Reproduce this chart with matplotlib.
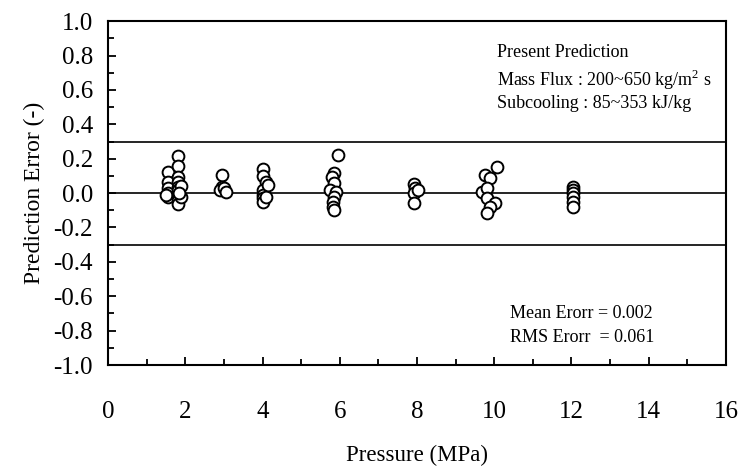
import numpy as np
import matplotlib
matplotlib.use('Agg')
import matplotlib.pyplot as plt
from matplotlib.ticker import MultipleLocator

plt.rcParams['font.family'] = ['Liberation Serif', 'DejaVu Serif']
plt.rcParams['mathtext.fontset'] = 'custom'
plt.rcParams['mathtext.rm'] = 'Liberation Serif'

# pressure (MPa) and prediction error for each data point
pressure = [1.55, 1.55, 1.55, 1.55, 1.55, 1.50,
            1.81, 1.81, 1.81, 1.81, 1.81, 1.81, 1.81, 1.81, 1.81, 1.90, 1.90, 1.85,
            2.94, 2.94, 2.90, 3.00, 3.06,
            4.02, 4.02, 4.10, 4.02, 4.02, 4.02, 4.02, 4.09, 4.15,
            5.95, 5.85, 5.80, 5.85, 5.75, 5.90, 5.85, 5.82, 5.82, 5.85,
            7.91, 7.95, 7.91, 7.91, 8.03,
            9.77, 10.07, 9.90, 9.69, 9.82, 9.80, 10.03, 9.90, 9.80,
            12.05, 12.05, 12.05, 12.05, 12.05, 12.05]
error = [0.12, 0.066, 0.03, 0.0, -0.02, -0.01,
         0.215, 0.157, 0.095, 0.066, 0.037, 0.017, -0.012, -0.04, -0.064, 0.04, -0.02, 0.0,
         0.105, 0.037, 0.017, 0.03, 0.008,
         0.14, 0.10, 0.066, 0.017, -0.012, -0.03, -0.05, -0.02, 0.05,
         0.22, 0.116, 0.095, 0.058, 0.017, 0.008, -0.02, -0.05, -0.08, -0.10,
         0.052, 0.028, 0.0, -0.056, 0.02,
         0.105, 0.153, 0.087, 0.006, 0.03, -0.03, -0.056, -0.08, -0.115,
         0.037, 0.02, 0.0, -0.02, -0.05, -0.08]

bounds = [0.3, 0.0, -0.3]

fig = plt.figure(figsize=(7.4, 4.71), dpi=100)
ax = fig.add_axes([0.146, 0.225, 0.835, 0.730])

for b in bounds:
    ax.axhline(b, color='black', lw=1.2, zorder=1)

ax.plot(pressure, error, 'o', ms=8.5, mfc='white', mec='black', mew=1.4, zorder=3)

ax.set_xlim(0, 16)
ax.set_ylim(-1.0, 1.0)
ax.xaxis.set_major_locator(MultipleLocator(2))
ax.xaxis.set_minor_locator(MultipleLocator(1))
ax.yaxis.set_major_locator(MultipleLocator(0.2))
ax.yaxis.set_minor_locator(MultipleLocator(0.1))
ax.yaxis.set_major_formatter(matplotlib.ticker.FormatStrFormatter('%.1f'))

ax.tick_params(which='both', direction='in', top=False, right=False, width=1.3)
ax.tick_params(axis='x', which='major', length=6, pad=26, labelsize=18)
ax.tick_params(axis='x', which='minor', length=4)
ax.tick_params(axis='y', which='major', length=6, pad=11, labelsize=18)
ax.tick_params(axis='y', which='minor', length=4)
for s in ax.spines.values():
    s.set_linewidth(1.5)

ax.set_xlabel('Pressure (MPa)', fontsize=16.5, labelpad=16)
ax.set_ylabel('Prediction Error (-)', fontsize=17, labelpad=6)

ax.text(10.08, 0.82, 'Present Prediction', fontsize=13, va='center')
ax.text(10.08, 0.66, 'Mass Flux : 200~650 kg/m$^{2}$ s', fontsize=13, va='center')
ax.text(10.08, 0.52, 'Subcooling : 85~353 kJ/kg', fontsize=13, va='center')
ax.text(10.4, -0.70, 'Mean Erorr = 0.002', fontsize=13, va='center')
ax.text(10.4, -0.84, 'RMS Erorr  = 0.061', fontsize=13, va='center')

fig.savefig('out.png', dpi=100)
